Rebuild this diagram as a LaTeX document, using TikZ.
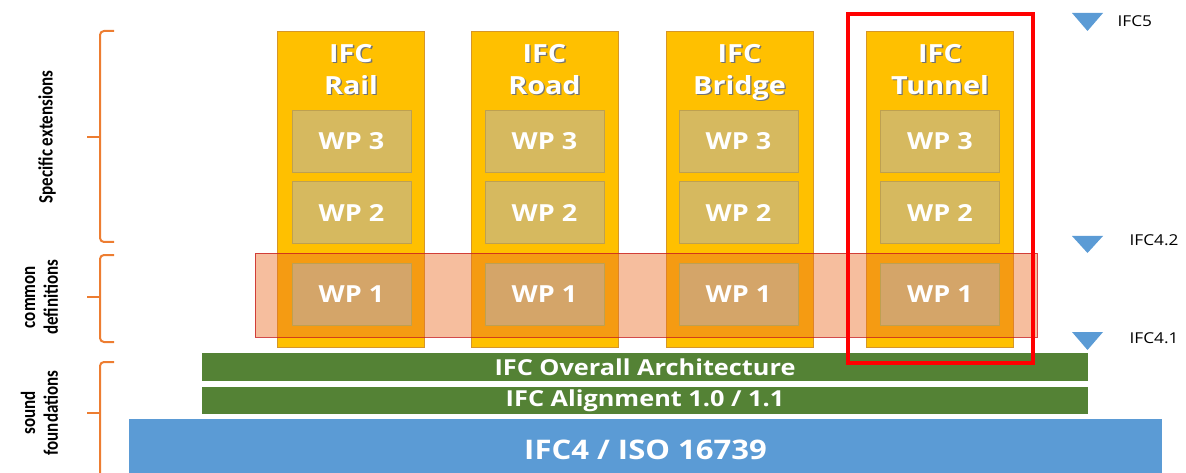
\documentclass[tikz,border=0pt]{standalone}
\usepackage{fontspec}
\setmainfont{Open Sans}[FakeStretch=1.15]
\newfontfamily\sidefont{Carlito}
\definecolor{colyellow}{RGB}{255,192,0}
\definecolor{coledge}{RGB}{214,150,40}
\definecolor{wptan}{RGB}{214,185,95}
\definecolor{wpedge}{RGB}{190,160,80}
\definecolor{wpone}{RGB}{212,165,105}
\definecolor{bandfill}{RGB}{235,110,40}
\definecolor{bandedge}{RGB}{200,30,30}
\definecolor{archgreen}{RGB}{84,130,53}
\definecolor{isoblue}{RGB}{91,155,213}
\definecolor{bracecol}{RGB}{237,125,49}
\definecolor{marker}{RGB}{91,155,213}
\newcommand\shtext[1]{\makebox[0pt][l]{\hspace{1.3pt}\raisebox{-1.3pt}{\textcolor{black!55}{#1}}}#1}
\newcommand\sidetext[1]{\scalebox{1}[1.2]{\begin{tabular}{@{}c@{}}#1\end{tabular}}}
\begin{document}
\begin{tikzpicture}[x=1pt,y=-1pt,
  column/.style={draw=coledge, fill=colyellow, minimum width=147, minimum height=316, inner sep=0},
  wpbox/.style={draw=wpedge, fill=wptan, minimum width=119, minimum height=62, inner sep=0,
    text=white, font=\bfseries\fontsize{23.5}{23.5}\selectfont},
  title/.style={anchor=north, inner sep=0, text=white, align=center, font=\bfseries\fontsize{25}{32}\selectfont},
  layerbar/.style={fill=archgreen, minimum width=886, minimum height=28, inner sep=0,
    text=white, font=\bfseries\fontsize{22}{22}\selectfont},
  sidelabel/.style={rotate=90, inner sep=0, font=\sidefont\bfseries\fontsize{17}{19}\selectfont},
  version/.style={anchor=west, font=\fontsize{15}{15}\selectfont},
  brace/.style={draw=bracecol, line width=2, rounded corners=4}]
\useasboundingbox (0,0) rectangle (1186,473);
% columns
\node[column] (rail) at (351,189) {};
\node[column] (road) at (544.5,189) {};
\node[column] (bridge) at (739.5,189) {};
\node[column] (tunnel) at (940,189) {};
% common definitions band
\node[draw=bandedge, draw opacity=.8, fill=bandfill, fill opacity=.45, minimum width=782, minimum height=84, inner sep=0] (band) at (646,295) {};
% work packages
\node[wpbox] (rail3) at (351.5,141) {WP 3};
\node[wpbox] (rail2) at (351.5,212.5) {WP 2};
\node[wpbox, fill=wpone] (rail1) at (351.5,294.5) {WP 1};
\node[wpbox] (road3) at (544.5,141) {WP 3};
\node[wpbox] (road2) at (544.5,212.5) {WP 2};
\node[wpbox, fill=wpone] (road1) at (544.5,294.5) {WP 1};
\node[wpbox] (bridge3) at (738.5,141) {WP 3};
\node[wpbox] (bridge2) at (738.5,212.5) {WP 2};
\node[wpbox, fill=wpone] (bridge1) at (738.5,294.5) {WP 1};
\node[wpbox] (tunnel3) at (940,141) {WP 3};
\node[wpbox] (tunnel2) at (940,212.5) {WP 2};
\node[wpbox, fill=wpone] (tunnel1) at (940,294.5) {WP 1};
% column titles
\node[title] (railT) at (351,44) {\shtext{IFC}\\\shtext{Rail}};
\node[title] (roadT) at (544.5,44) {\shtext{IFC}\\\shtext{Road}};
\node[title] (bridgeT) at (739.5,44) {\shtext{IFC}\\\shtext{Bridge}};
\node[title] (tunnelT) at (940,44) {\shtext{IFC}\\\shtext{Tunnel}};
% foundations
\node[layerbar] (arch) at (645,367) {IFC Overall Architecture};
\node[layerbar, minimum height=27] (align) at (645,400.5) {IFC Alignment 1.0 / 1.1};
\node[fill=isoblue, minimum width=1033, minimum height=62, inner sep=0, text=white,
  font=\bfseries\fontsize{27}{27}\selectfont] (iso) at (645.5,450) {IFC4 / ISO 16739};
% highlight of the tunnel
\node[draw=red, line width=4, minimum width=185, minimum height=349, inner sep=0] (focus) at (940.5,188.5) {};
% version markers
\fill[marker] (1072,13) -- (1103,13) -- (1087.5,31) -- cycle;
\fill[marker] (1072,236) -- (1103,236) -- (1087.5,253) -- cycle;
\fill[marker] (1072,332) -- (1103,332) -- (1087.5,350) -- cycle;
\node[version] (v5) at (1114,21) {IFC5};
\node[version] (v42) at (1126,240) {IFC4.2};
\node[version] (v41) at (1126,338) {IFC4.1};
% braces
\draw[brace] (114,31) -- (100,31) -- (100,242) -- (114,242);
\draw[brace] (100,137) -- (87,137);
\draw[brace] (114,255) -- (100,255) -- (100,342) -- (114,342);
\draw[brace] (100,297) -- (87,297);
\draw[brace] (114,362) -- (100,362) -- (100,490);
\draw[brace] (100,413) -- (87,413);
\node[sidelabel] (spec) at (48,137) {\sidetext{Specific extensions}};
\node[sidelabel] (common) at (42,297) {\sidetext{common\\definitions}};
\node[sidelabel] (sound) at (42,413) {\sidetext{sound\\foundations}};
\end{tikzpicture}
\end{document}
